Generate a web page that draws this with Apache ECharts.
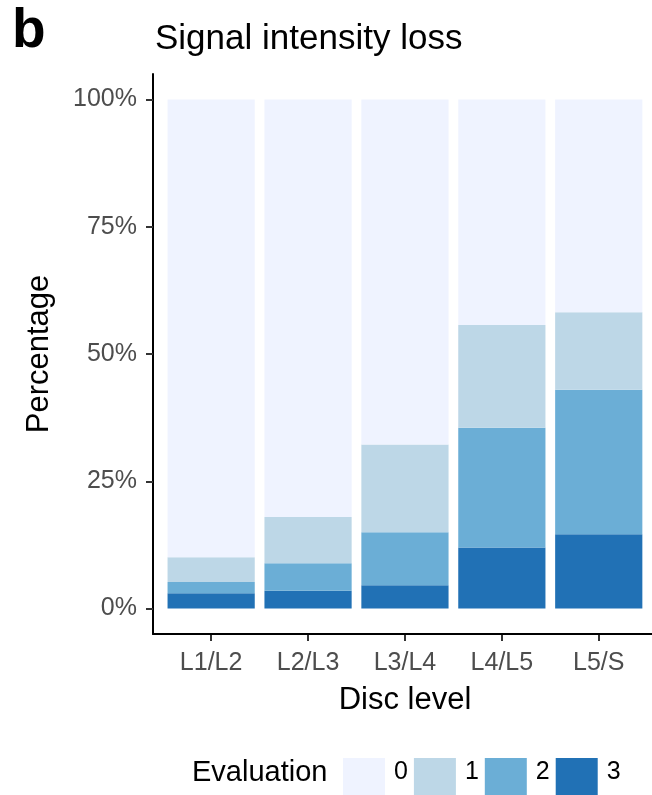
<!DOCTYPE html>
<html><head><meta charset="utf-8">
<script src="https://cdn.jsdelivr.net/npm/echarts@6/dist/echarts.min.js"></script>
<style>html,body{margin:0;padding:0;background:#fff}#c{width:652px;height:795px}</style>
</head><body><div id="c"></div>
<script>
const categories = ['L1/L2', 'L2/L3', 'L3/L4', 'L4/L5', 'L5/S'];
const levels = ['0', '1', '2', '3'];
const eval3 = [3.0, 3.5, 4.6, 12.0, 14.6];
const eval2 = [2.2, 5.4, 10.4, 23.5, 28.4];
const eval1 = [4.9, 9.1, 17.2, 20.2, 15.2];
const eval0 = [89.9, 82.0, 67.8, 44.3, 41.8];
const yTicks = [0, 25, 50, 75, 100];
const colors = {'0': '#EFF3FF', '1': '#BDD7E7', '2': '#6BAED6', '3': '#2171B5'};

const FONT = 'Liberation Sans, Arial, Helvetica, sans-serif';
const seriesData = {'3': eval3, '2': eval2, '1': eval1, '0': eval0};

const chart = echarts.init(document.getElementById('c'), null, {renderer: 'canvas'});
chart.setOption({
  animation: false,
  backgroundColor: '#ffffff',
  textStyle: {fontFamily: FONT},
  title: [
    {text: 'b', left: 7, top: -1, textStyle: {fontFamily: FONT, fontSize: 55, fontWeight: 'bold', color: '#000', lineHeight: 55}},
    {text: 'Signal intensity loss', left: 150, top: 17, textStyle: {fontFamily: FONT, fontSize: 35, fontWeight: 'normal', color: '#000', lineHeight: 35}},
    {text: 'Evaluation', left: 187, top: 753, textStyle: {fontFamily: FONT, fontSize: 29, fontWeight: 'normal', color: '#000', lineHeight: 29}}
  ],
  legend: {
    data: levels,
    left: 338, top: 753,
    orient: 'horizontal',
    itemWidth: 42, itemHeight: 42, itemGap: 6,
    icon: 'rect',
    formatter: '{t|{name}}',
    textStyle: {fontFamily: FONT, fontSize: 25, color: '#000',
      rich: {t: {fontFamily: FONT, fontSize: 25, color: '#000', lineHeight: 25, padding: [0, 0, 14, 4]}}}
  },
  grid: [
    {left: 153, top: 74, width: 504, height: 560, containLabel: false},
    {left: 162.7, top: 74, width: 484.5, height: 560, containLabel: false}
  ],
  xAxis: [
    {
      type: 'value', gridIndex: 0, min: 0, max: 1, z: 10,
      axisLine: {show: true, onZero: false, lineStyle: {color: '#000', width: 2}},
      axisTick: {show: false}, axisLabel: {show: false}, splitLine: {show: false}
    },
    {
      type: 'category', gridIndex: 1, data: categories,
      name: 'Disc level', nameLocation: 'middle', nameGap: 51,
      nameTextStyle: {fontFamily: FONT, fontSize: 31, color: '#000'},
      axisLine: {show: false, onZero: false},
      axisTick: {show: true, alignWithLabel: true, length: 7, lineStyle: {color: '#333', width: 2}},
      axisLabel: {show: true, margin: 17, fontFamily: FONT, fontSize: 25, color: '#4D4D4D'},
      splitLine: {show: false}
    }
  ],
  yAxis: [
    {
      type: 'value', gridIndex: 0, min: -5, max: 105,
      name: 'Percentage', nameLocation: 'middle', nameGap: 98, nameRotate: 90,
      nameTextStyle: {fontFamily: FONT, fontSize: 31, color: '#000'},
      axisLine: {show: true, onZero: false, lineStyle: {color: '#000', width: 2}},
      axisTick: {show: true, length: 7, lineStyle: {color: '#333', width: 2}, customValues: yTicks},
      axisLabel: {show: true, customValues: yTicks, margin: 16, fontFamily: FONT, fontSize: 25, color: '#4D4D4D',
        formatter: v => v + '%'},
      splitLine: {show: false}
    },
    {
      type: 'value', gridIndex: 1, min: -5, max: 105, show: false,
      splitLine: {show: false}
    }
  ],
  series: ['3', '2', '1', '0'].map(k => ({
    name: k, type: 'bar', stack: 'total', barWidth: '90%',
    xAxisIndex: 1, yAxisIndex: 1,
    itemStyle: {color: colors[k]},
    data: seriesData[k]
  }))
});
</script></body></html>
